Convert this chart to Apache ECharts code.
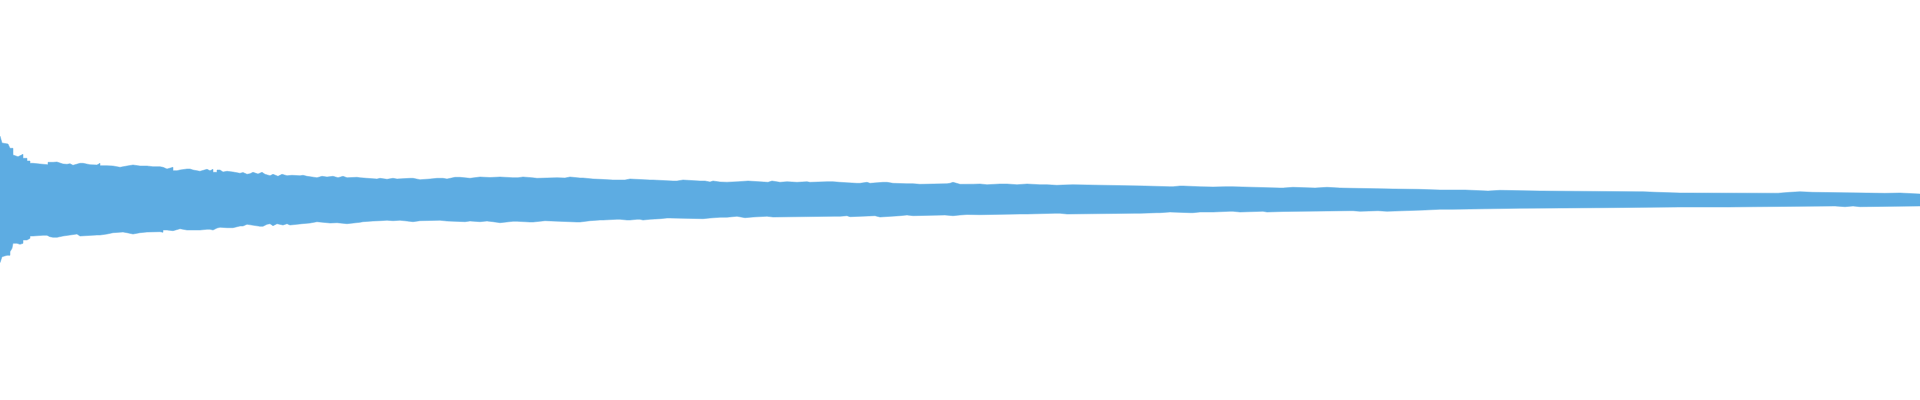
<!DOCTYPE html>
<html>
<head>
<meta charset="utf-8">
<style>html,body{margin:0;padding:0;background:#fff;}#chart{width:1920px;height:400px;}</style>
<script src="https://cdn.jsdelivr.net/npm/echarts@6/dist/echarts.min.js"></script>
</head>
<body>
<div id="chart"></div>
<script>
// Upper envelope of the waveform: sample positions and amplitudes
var topX = [0,2,3,8,10,13,15,18,20,23,27,30,33,40,42,48,53,57,63,67,70,73,80,83,90,97,100,107,113,117,120,127,133,140,147,153,160,163,167,173,177,180,187,190,193,200,207,210,213,217,220,223,227,233,240,243,247,250,253,258,262,265,270,273,278,282,287,292,300,303,307,312,317,322,327,333,338,343,347,357,360,367,377,380,387,393,397,410,413,420,430,437,443,447,455,460,470,480,490,500,513,518,523,532,537,557,565,570,580,583,593,600,613,625,630,650,653,673,677,683,700,705,710,713,720,727,738,748,750,768,772,780,787,797,807,810,827,833,840,847,857,860,867,870,883,887,893,907,913,920,947,950,953,960,973,980,987,1000,1007,1017,1027,1040,1047,1057,1063,1073,1145,1147,1170,1173,1180,1183,1200,1213,1225,1233,1280,1283,1293,1315,1317,1327,1340,1353,1380,1393,1418,1420,1440,1465,1467,1488,1490,1500,1540,1640,1643,1657,1680,1778,1780,1790,1800,1813,1885,1887,1900,1920];
var topAmp = [64,57,56,56,51.7,45,43.3,45,45.7,41.7,39,36.7,36,36,35.3,37.7,38,36,35.7,36.3,34.7,36.7,36.7,35.3,35,36.7,34.3,34,33.3,32.7,34,35,34,34,33.3,33.3,32.7,31,32.7,29.3,30,31,31,30,28.7,30.7,29.3,30.7,27.7,30,28,28.7,28,26.7,27.5,25.7,26.3,27.7,26,27.7,25.7,24.3,25.7,23.7,25.7,24.3,24.7,24.3,24.7,23.7,23,22.3,23.7,23,23.7,22.3,23.7,22.3,22.7,22.3,21.7,21,21.7,20.7,21.7,21,21.7,21.7,20.3,21,21.7,21.7,21,22.7,22.7,21.7,23,22.5,23,22.3,22.3,23,22.3,21.7,22.3,22,23,22,22,21,20.7,20,20,21,20,20,19,19,20,19,19,18,19,18,17.8,18.3,19,19,17.7,19,17.7,18.3,17.7,18.3,17.7,18.3,18.3,17.7,17.3,16.7,16.7,17.7,16.7,17.7,17.7,16.7,16.3,16.3,15.7,16.3,16.7,17.7,15.7,15.8,16,15.3,16,16,15.3,16,15.3,15.3,14.7,15,15.3,14,14,13.3,13.3,14,14,13.3,13,13.3,13.3,12,12,12.7,12,12,12.7,12,11.7,11.3,11,10.7,10.7,10,10,9.7,9,9,9.7,9,8.3,8.3,7.7,7,6.8,6.8,7.7,8.3,7.7,6.7,6.7,7,6,6];
// Lower envelope of the waveform: sample positions and amplitudes
var botX = [0,2,3,7,10,12,13,17,18,20,23,27,30,33,43,47,50,53,57,63,70,77,80,97,100,107,113,123,127,133,140,147,160,163,167,173,180,187,193,200,207,210,213,217,220,227,233,240,243,247,260,263,267,270,273,277,283,287,290,297,302,303,310,317,330,337,340,347,360,363,373,380,387,393,400,407,413,420,440,447,465,467,470,480,487,493,497,500,513,517,530,533,545,547,577,580,590,600,603,617,620,627,630,637,640,643,650,660,667,670,703,710,720,727,737,745,753,767,773,835,840,847,850,875,877,880,900,907,913,945,947,953,960,967,980,1020,1027,1055,1060,1067,1135,1140,1157,1160,1170,1190,1193,1200,1213,1230,1233,1240,1263,1267,1283,1350,1353,1360,1378,1380,1387,1425,1427,1440,1453,1455,1520,1522,1605,1607,1680,1727,1728,1835,1837,1845,1853,1860,1920];
var botAmp = [62.7,56.7,55.3,55.3,51.7,48.3,43.3,43.3,44.3,43.3,40,38.3,36,35.3,35.3,36.7,37.3,37.3,36,35,34,36,35,35,34,32.7,32,32.7,34,32.7,32,31.7,32.3,30,30.7,28.7,30,30,30,29.3,29.3,30,28,27.3,27.7,27.7,26,26,24.3,26.3,26.3,24.3,23.7,25.7,23.7,25,23.7,25,24.3,23.7,25,23,21.7,23,22.7,23,23.7,22.3,21.7,21,20.7,20.3,20.7,20.3,21,21.7,20.7,20.3,21,21.7,21.7,21,21.7,21,21.7,22.3,22.7,21.3,21.3,22,22,20.7,20.7,22,22,20.7,20,20,19.3,19.3,20,20,19.3,19.3,20,19.3,18.7,18,18,18.7,18,17.3,17.2,16.3,17.7,17,16.3,17,16.3,16.3,15.7,16.7,15.7,15.7,17,15.7,15,15.7,15,15,15.7,15,14.5,14.7,14,14,13.3,13.3,14,13.3,13.3,12.7,12.7,12,12.7,12.7,12,12,11.3,11.3,12,11.3,12,11.5,10.7,10.7,11.3,10.7,10.7,11.3,10,10,9.3,9.3,9.7,8.3,8.3,7.7,7.7,7,7,6.7,6,6,6.7,6,6.7,6,6];

var upper = topX.map(function (x, i) { return [x, topAmp[i]]; });
var lower = botX.map(function (x, i) { return [x, -botAmp[i]]; });

var color = '#5dace2';
var chart = echarts.init(document.getElementById('chart'));
chart.setOption({
  animation: false,
  grid: { left: 0, right: 0, top: 0, bottom: 0 },
  xAxis: { type: 'value', min: 0, max: 1920, show: false },
  yAxis: { type: 'value', min: -200, max: 200, show: false },
  series: [
    { type: 'line', data: upper, step: 'end', symbol: 'none', lineStyle: { width: 0.5, color: color }, areaStyle: { color: color, opacity: 1 } },
    { type: 'line', data: lower, step: 'end', symbol: 'none', lineStyle: { width: 0.5, color: color }, areaStyle: { color: color, opacity: 1 } }
  ]
});
</script>
</body>
</html>
